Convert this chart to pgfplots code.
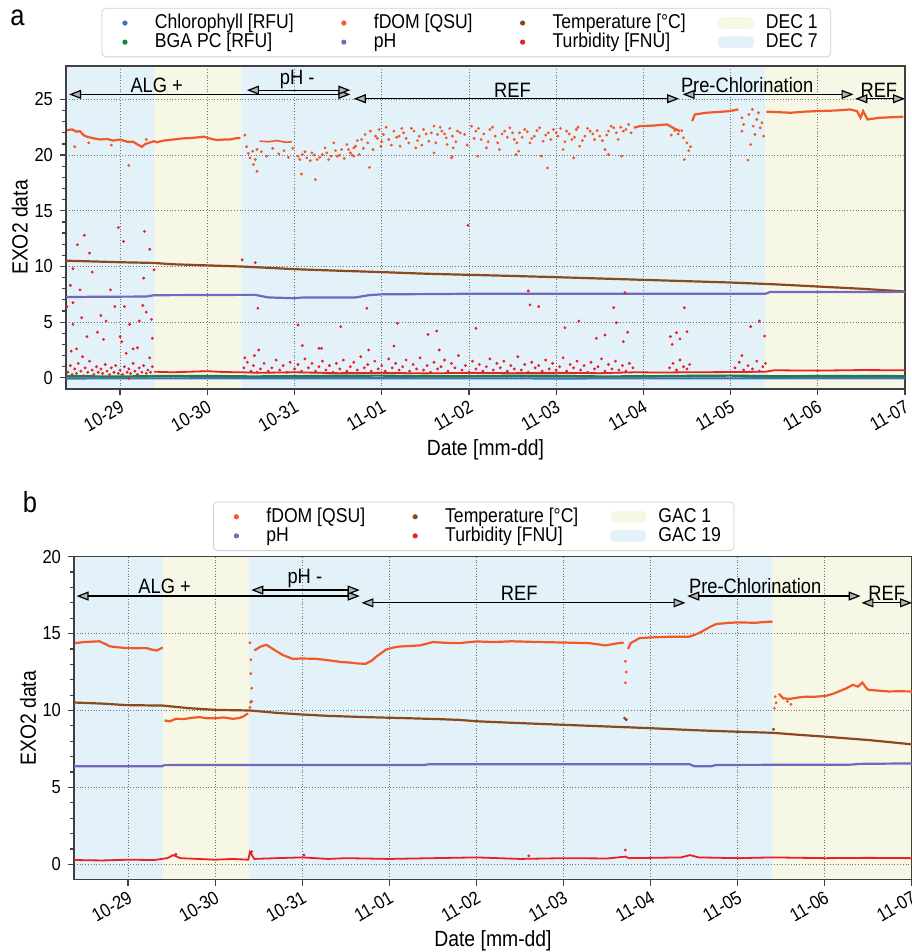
\documentclass[border=0pt]{standalone}
\usepackage{fontspec}
\setmainfont{Liberation Sans}[FakeStretch=0.88]
\usepackage{pgfplots}
\pgfplotsset{compat=1.18}
\usetikzlibrary{arrows.meta}
\definecolor{chl}{RGB}{70,110,190}
\definecolor{bga}{RGB}{25,130,60}
\definecolor{fdom}{RGB}{242,88,40}
\definecolor{temp}{RGB}{140,72,30}
\definecolor{ph}{RGB}{115,104,190}
\definecolor{turb}{RGB}{236,30,38}
\definecolor{yel}{RGB}{247,247,230}
\definecolor{blu}{RGB}{226,242,248}
\tikzset{
 ann/.style={{Triangle[fill=gray!60, length=6pt, width=4.5pt]}-{Triangle[fill=gray!60, length=6pt, width=4.5pt]}, black, line width=0.6pt},
 annlab/.style={font=\fontsize{10.4}{12}\selectfont, inner sep=0pt},
}
\pgfplotsset{
 exo/.style={
  scale only axis, width=419.5pt, height=161.5pt,
  xmin=-0.62, xmax=9, ymin=-1,
  xtick={0,...,9},
  xticklabels={10-29,10-30,10-31,11-01,11-02,11-03,11-04,11-05,11-06,11-07},
  xticklabel style={rotate=30, anchor=north east, inner sep=1.5pt},
  tick label style={font=\fontsize{9.4}{11}\selectfont},
  /pgf/number format/assume math mode=true,
  minor y tick num=4,
  tick pos=left, tick align=outside,
  major tick length=3pt, minor tick length=1.8pt,
  grid=major, grid style={densely dotted, black!55, line width=0.4pt},
  axis line style={black!75, line width=0.6pt},
  every tick/.style={black!75, line width=0.6pt},
  set layers,
  label style={font=\fontsize{11}{13}\selectfont},
  xlabel={Date [mm-dd]},
  ylabel={EXO2 data},
  ylabel style={at={(axis description cs:-0.055,0.5)}, anchor=center},
  xlabel style={at={(axis description cs:0.5,-0.189)}, anchor=center},
  legend cell align=left,
  legend style={draw=black!18, rounded corners=2pt, fill=white,
    font=\fontsize{10}{12}\selectfont, anchor=south west,
    inner xsep=6.5pt, inner ysep=3pt, row sep=0.8pt,
    nodes={inner sep=0pt},
    /tikz/every odd column/.append style={column sep=11pt},
    /tikz/every even column/.append style={column sep=20pt}},
 },
 dots/.style={color=#1, only marks, mark=*, mark size=0.5pt, forget plot},
 ln/.style={color=#1, line width=1.1pt, forget plot},
 shade/.style={fill=#1, draw=none, forget plot, on layer=axis background},
 lgd/.style={legend image code/.code={\path[draw=none] (0pt,0pt) -- (9pt,0pt); \fill[#1, draw=none] (5pt,0pt) circle (1.3pt);}},
 lgdarea/.style={legend image code/.code={\path[draw=none] (0pt,0pt) -- (9pt,0pt); \fill[#1, draw=none, overlay] (-4pt,-2.9pt) rectangle (14pt,2.9pt);}},
}
\begin{document}
\begin{tikzpicture}
\node[font=\fontsize{14.5}{16}\selectfont, inner sep=0pt] at (8.75pt,467.25pt) {a};
\node[font=\fontsize{14.5}{16}\selectfont, inner sep=0pt] at (15pt,224.75pt) {b};
% ================= panel a =================
\begin{axis}[exo, at={(33pt,281.5pt)}, anchor=south west,
  ymax=28, ytick={0,5,10,15,20,25},
  legend columns=4,
  legend style={at={(0.0424,1.027)}}]
\addlegendimage{lgd=chl}\addlegendentry{Chlorophyll [RFU]}
\addlegendimage{lgd=fdom}\addlegendentry{fDOM [QSU]}
\addlegendimage{lgd=temp}\addlegendentry{Temperature [°C]}
\addlegendimage{lgdarea=yel}\addlegendentry{DEC 1}
\addlegendimage{lgd=bga}\addlegendentry{BGA PC [RFU]}
\addlegendimage{lgd=ph}\addlegendentry{pH}
\addlegendimage{lgd=turb}\addlegendentry{Turbidity [FNU]}
\addlegendimage{lgdarea=blu}\addlegendentry{DEC 7}
% shading
\addplot[shade=blu] coordinates {(-0.62,-1)(0.39,-1)(0.39,28)(-0.62,28)} \closedcycle;
\addplot[shade=yel] coordinates {(0.39,-1)(1.39,-1)(1.39,28)(0.39,28)} \closedcycle;
\addplot[shade=blu] coordinates {(1.39,-1)(7.40,-1)(7.40,28)(1.39,28)} \closedcycle;
\addplot[shade=yel] coordinates {(7.40,-1)(9,-1)(9,28)(7.40,28)} \closedcycle;
% chlorophyll & BGA
\addplot[ln=chl] coordinates {(-0.62,-0.05)(2,-0.04)(5,-0.05)(9,-0.04)};
\addplot[ln=bga] coordinates {(-0.62,0.15)(0,0.12)(0.5,0.17)(1,0.18)(1.5,0.13)(2,0.15)(2.5,0.19)(3,0.2)(3.5,0.14)(4,0.15)(4.5,0.19)(5,0.18)(5.5,0.13)(6,0.14)(6.5,0.18)(7,0.2)(7.5,0.15)(8,0.16)(8.5,0.18)(9,0.15)};
% temperature
\addplot[ln=temp] coordinates {(-0.62,10.52)(-0.3,10.45)(0.0,10.38)(0.38,10.32)(0.6,10.2)(0.99,10.1)(1.38,10.0)(1.7,9.88)(1.99,9.76)(2.5,9.62)(2.98,9.5)(3.5,9.35)(4.0,9.25)(4.5,9.15)(5.0,9.04)(5.5,8.92)(6.0,8.8)(6.5,8.68)(7.0,8.56)(7.5,8.4)(8.0,8.2)(8.5,8.0)(9.0,7.75)};
% pH
\addplot[ln=ph] coordinates {(-0.62,7.25)(-0.3,7.28)(0.3,7.3)(0.39,7.42)(1.39,7.45)(1.55,7.45)(1.7,7.22)(2.0,7.15)(2.1,7.22)(2.7,7.22)(2.85,7.42)(3.0,7.5)(3.5,7.52)(4.0,7.55)(5.0,7.55)(6.0,7.55)(7.0,7.55)(7.4,7.55)(7.45,7.7)(8.0,7.7)(9.0,7.72)};
% turbidity baseline
\addplot[color=turb, line width=0.9pt, forget plot] coordinates {(0.39,0.55)(0.6,0.5)(0.8,0.55)(1.0,0.6)(1.2,0.52)(1.39,0.5)(1.6,0.45)(2.0,0.5)(2.5,0.42)(3.0,0.45)(3.5,0.4)(4.0,0.45)(4.5,0.42)(5.0,0.45)(5.5,0.42)(5.9,0.5)(6.2,0.48)(6.5,0.5)(7.0,0.52)(7.4,0.55)(7.5,0.68)(8.0,0.65)(8.5,0.7)(9.0,0.68)};
% turbidity scatter
\addplot[dots=turb] coordinates {
(-0.61,6.4)(-0.57,8.3)(-0.54,9.8)(-0.49,11.95)(-0.41,12.8)(-0.35,11.2)(-0.32,9.5)(-0.46,7.9)(-0.54,6.75)(-0.44,5.4)(-0.54,4.8)(-0.56,2.4)(-0.50,2.6)(-0.43,1.9)(-0.38,3.7)(-0.26,4.1)(-0.22,5.6)(-0.16,5.1)(-0.19,3.45)(-0.11,7.9)(-0.06,6.4)(-0.02,13.5)(0.04,12.25)(0.05,6.4)(0.0,3.7)(0.02,3.25)(0.07,2.2)(0.11,4.8)(0.15,2.6)(0.22,5.1)(0.20,2.7)(0.26,6.5)(0.28,13.15)(0.27,8.95)(0.30,5.9)(0.34,11.55)(0.36,5.25)(0.37,3.55)(0.39,9.7)(0.34,1.8)(0.10,-0.05)
(-0.6,0.5)(-0.57,1.1)(-0.55,0.3)(-0.52,0.8)(-0.5,0.4)(-0.48,1.3)(-0.45,0.6)(-0.42,0.2)(-0.4,0.9)(-0.37,0.5)(-0.35,1.5)(-0.32,0.7)(-0.3,0.3)(-0.27,1.0)(-0.25,0.5)(-0.22,0.8)(-0.2,0.4)(-0.17,1.2)(-0.15,0.6)(-0.12,0.3)(-0.1,0.9)(-0.07,0.5)(-0.05,1.1)(-0.02,0.4)(0.0,0.7)(0.03,0.3)(0.05,1.0)(0.08,0.5)(0.1,0.8)(0.12,0.4)(0.15,1.3)(0.17,0.6)(0.2,0.3)(0.22,0.9)(0.25,0.5)(0.27,1.1)(0.3,0.4)(0.32,0.7)(0.35,0.5)(0.37,1.0)
(1.40,10.6)(1.55,10.35)(1.58,6.25)(1.43,1.8)(1.54,2.0)(1.59,2.5)(2.04,4.75)(2.53,4.6)(2.09,2.9)(2.28,2.65)(2.31,2.65)(2.83,6.25)(2.85,2.5)(3.14,2.85)(3.18,4.9)(3.53,3.9)(3.63,4.2)(3.66,2.5)(3.99,13.7)(4.08,4.45)(4.68,7.8)(4.70,6.55)(4.80,6.4)(5.10,4.5)(5.26,5.1)(5.46,3.55)(5.56,3.85)(5.66,6.3)(5.69,4.95)(5.79,7.65)(5.82,4.1)(5.77,3.25)(6.31,3.7)(6.33,3.0)(6.38,4.05)(6.42,3.5)(6.50,4.15)(6.47,6.3)(7.23,4.6)(7.33,5.1)(7.39,3.75)(7.13,2.0)
(1.42,0.9)(1.46,1.4)(1.50,0.6)(1.53,1.1)(1.57,0.5)(1.61,0.8)(1.65,1.3)(1.70,0.6)(1.74,0.9)(1.79,1.6)(1.83,0.7)(1.87,1.1)(1.91,0.5)(1.95,1.4)(2.00,0.8)(2.04,1.2)(2.08,0.6)(2.12,1.7)(2.16,0.9)(2.20,1.3)(2.24,0.6)(2.28,1.0)(2.32,1.5)(2.36,0.7)(2.40,1.1)(2.44,0.5)(2.48,1.3)(2.52,0.8)(2.56,1.6)(2.60,0.6)(2.64,1.0)(2.68,1.4)(2.72,0.7)(2.76,1.9)(2.80,0.9)(2.84,1.2)(2.88,0.6)(2.92,1.5)(2.96,0.8)(3.00,1.1)(3.04,0.6)(3.08,1.7)(3.12,0.9)(3.16,1.3)(3.20,0.7)(3.24,1.0)(3.28,1.6)(3.32,0.6)(3.36,1.2)(3.40,0.8)(3.44,1.8)(3.48,0.7)(3.52,1.1)(3.56,0.5)(3.60,1.4)(3.64,0.8)(3.68,1.0)(3.72,1.6)(3.76,0.6)(3.80,1.3)(3.84,0.9)(3.88,2.0)(3.92,0.7)(3.96,1.1)(4.00,0.5)(4.04,1.5)(4.08,0.8)(4.12,1.2)(4.16,0.6)(4.20,1.0)(4.24,1.7)(4.28,0.7)(4.32,1.3)(4.36,0.9)(4.40,1.5)(4.44,0.6)(4.48,1.1)(4.52,0.8)(4.56,1.9)(4.60,0.7)(4.64,1.2)(4.68,0.5)(4.72,1.4)(4.76,0.9)(4.80,1.1)(4.84,0.6)(4.88,1.6)(4.92,0.8)(4.96,1.3)(5.00,0.7)(5.04,1.0)(5.08,1.8)(5.12,0.6)(5.16,1.2)(5.20,0.9)(5.24,1.5)(5.28,0.7)(5.32,1.1)(5.36,0.5)(5.40,1.4)(5.44,0.8)(5.48,1.0)(5.52,1.7)(5.56,0.6)(5.60,1.2)(5.64,0.8)(5.68,1.5)(5.72,0.7)(5.76,1.1)(5.80,0.6)(5.84,1.3)(5.88,0.9)
(6.30,0.9)(6.34,1.3)(6.38,0.7)(6.42,1.6)(6.46,1.0)(6.50,0.8)(6.53,1.2)(7.05,0.9)(7.10,1.4)(7.15,0.7)(7.2,1.1)(7.25,0.8)(7.3,1.5)(7.33,0.6)(7.37,1.0)(7.4,1.3)};
% fDOM lines
\addplot[ln=fdom] coordinates {(-0.61,22.25)(-0.55,22.3)(-0.5,22.1)(-0.46,22.15)(-0.42,21.8)(-0.38,21.65)(-0.3,21.5)(-0.23,21.4)(-0.15,21.45)(-0.08,21.3)(0,21.4)(0.08,21.2)(0.15,21.2)(0.2,20.95)(0.25,20.75)(0.29,21.0)(0.33,21.1)(0.39,21.25)(0.42,21.15)(0.5,21.3)(0.61,21.4)(0.72,21.5)(0.84,21.55)(0.96,21.65)(1.05,21.45)(1.11,21.35)(1.2,21.4)(1.26,21.4)(1.32,21.5)(1.38,21.55)};
\addplot[ln=fdom, line width=0.8pt] coordinates {(1.6,21.25)(1.7,21.2)(1.8,21.3)(1.9,21.15)(1.97,21.2)};
\addplot[ln=fdom] coordinates {(5.89,22.45)(5.96,22.6)(6.11,22.65)(6.27,22.75)(6.34,22.45)(6.42,22.15)};
\addplot[ln=fdom] coordinates {(6.56,23.05)(6.59,23.65)(6.72,23.8)(6.91,23.9)(6.99,23.95)(7.09,24.1)};
\addplot[ln=fdom] coordinates {(7.41,23.9)(7.55,23.85)(7.69,23.8)(7.85,23.9)(7.99,23.95)(8.2,24.0)(8.37,24.1)(8.45,23.95)(8.49,23.35)(8.52,23.95)(8.57,23.2)(8.71,23.35)(8.85,23.4)(8.98,23.45)};
% fDOM scatter
\addplot[dots=fdom] coordinates {
(-0.52,20.75)(-0.36,21.1)(-0.1,20.9)(0.3,21.4)(0.10,19.07)(1.53,19.15)(1.57,18.55)(2.24,17.8)(2.08,18.3)(2.86,18.9)(4.9,18.85)(6.47,19.6)(7.2,19.55)
(1.43,21.8)(1.45,20.75)(1.47,20.15)(1.49,19.75)(1.52,20.35)(1.55,19.6)(1.57,20.5)
(2.04,19.9)(2.09,20.05)(2.14,19.75)(2.2,20.2)(2.26,19.6)(2.32,20.05)(2.35,20.65)(2.39,19.6)(2.45,21.1)(2.49,19.9)(2.54,20.5)(2.6,20.95)(2.64,20.2)(2.68,20.65)(2.74,20.05)(2.77,21.4)(2.81,21.85)(2.87,22.15)(2.93,21.7)(2.97,22.3)(3.02,21.85)(3.08,21.4)(3.14,22.15)(3.2,21.7)(3.25,22.0)(3.31,21.1)(3.37,22.15)(3.43,21.7)(3.48,22.3)(3.54,21.25)(3.6,22.6)(3.64,21.85)(3.69,22.15)(3.75,20.95)(3.81,21.7)(3.87,22.15)(3.39,20.65)(3.6,20.2)(3.81,19.9)(2.99,20.8)(3.21,20.8)(2.68,19.9)
(3.74,21.55)(3.82,20.65)(3.95,21.85)(4.03,22.6)(4.08,22.15)(4.14,21.4)(4.2,20.65)(4.24,22.3)(4.3,21.7)(4.35,20.5)(4.41,22.15)(4.47,22.45)(4.52,21.4)(4.58,22.0)(4.64,22.3)(4.7,21.1)(4.75,21.7)(4.81,22.45)(4.85,21.25)(4.91,22.0)(4.97,22.3)(5.02,21.7)(5.08,20.5)(5.12,22.15)(5.18,21.4)(5.23,22.3)(5.27,20.8)(5.33,21.7)(5.39,22.15)(5.44,21.4)(5.5,21.7)(5.56,20.5)(5.6,22.15)(5.66,22.45)(5.71,21.4)(5.77,22.15)(5.83,22.75)
(5.2,19.75)(4.83,19.9)(4.54,20.05)(4.57,20.35)(4.1,19.9)(3.8,19.75)(5.6,20.05)(5.75,19.9)
(6.32,21.8)(6.36,22.2)(6.4,21.9)(6.44,22.2)(6.46,21.55)(6.5,21.1)(6.54,20.75)(6.52,20.4)
(7.13,23.35)(7.15,22.75)(7.21,23.65)(7.25,24.1)(7.26,22.6)(7.28,21.85)(7.3,23.2)(7.32,23.8)(7.34,22.45)(7.36,22.9)(7.38,21.7)(7.23,20.95)(7.13,22.15)
(2.72,21.3)(2.79,20.6)(2.84,21.1)(2.9,20.5)(2.95,21.5)(3.0,21.2)(3.05,22.5)(3.11,20.9)(3.17,21.6)(3.23,22.4)(3.28,21.5)(3.34,22.4)(3.41,21.3)(3.46,20.9)(3.51,21.9)(3.57,22.0)(3.62,21.1)(3.67,22.5)(3.72,21.9)(3.78,22.4)(3.85,21.2)(3.9,22.0)(3.98,20.9)(4.06,21.5)(4.11,22.4)(4.17,21.9)(4.22,21.2)(4.27,22.5)(4.33,21.1)(4.38,21.9)(4.44,21.6)(4.5,22.0)(4.55,21.1)(4.61,21.6)(4.67,22.1)(4.72,21.5)(4.78,22.2)(4.88,21.8)(4.94,21.4)(5.0,22.0)(5.05,22.4)(5.1,21.2)(5.15,21.9)(5.21,21.6)(5.25,22.5)(5.3,21.3)(5.36,22.4)(5.42,21.9)(5.47,22.2)(5.53,21.3)(5.58,21.8)(5.63,22.6)(5.69,22.0)(5.74,22.5)(5.8,22.3)(5.86,22.0)
(1.62,20.3)(1.68,19.9)(1.75,20.6)(1.82,20.1)(1.88,20.4)(1.93,19.8)(1.98,20.6)(2.06,19.6)(2.12,20.3)(2.18,19.5)(2.23,20.0)(2.29,19.8)(2.37,20.2)(2.42,19.9)(2.47,20.4)(2.52,20.0)(2.57,19.7)(2.62,20.5)(2.66,20.0)(2.7,20.8)};
% annotations
\draw[ann] (axis cs:-0.585,25.45) -- (axis cs:2.64,25.45);
\draw[ann] (axis cs:1.455,25.83) -- (axis cs:2.64,25.83);
\draw[ann] (axis cs:2.68,25.06) -- (axis cs:6.41,25.06);
\draw[ann] (axis cs:6.45,25.45) -- (axis cs:8.41,25.45);
\draw[ann] (axis cs:8.43,25.06) -- (axis cs:9.0,25.06);
\node[annlab, anchor=south] at (axis cs:0.42,25.55) {ALG +};
\node[annlab, anchor=south] at (axis cs:2.03,25.93) {pH -};
\node[annlab, anchor=south] at (axis cs:4.5,25.16) {REF};
\node[annlab, anchor=south] at (axis cs:7.19,25.55) {Pre-Chlorination};
\node[annlab, anchor=south] at (axis cs:8.70,25.16) {REF};
\end{axis}
% ================= panel b =================
\begin{axis}[exo, at={(37pt,36.15pt)}, anchor=south west, width=419pt,
  xmax=9, ymax=20, ytick={0,5,10,15,20},
  legend columns=3,
  legend style={at={(0.1659,1.0176)}}]
\addlegendimage{lgd=fdom}\addlegendentry{fDOM [QSU]}
\addlegendimage{lgd=temp}\addlegendentry{Temperature [°C]}
\addlegendimage{lgdarea=yel}\addlegendentry{GAC 1}
\addlegendimage{lgd=ph}\addlegendentry{pH}
\addlegendimage{lgd=turb}\addlegendentry{Turbidity [FNU]}
\addlegendimage{lgdarea=blu}\addlegendentry{GAC 19}
\addplot[shade=blu] coordinates {(-0.62,-1)(0.40,-1)(0.40,20)(-0.62,20)} \closedcycle;
\addplot[shade=yel] coordinates {(0.40,-1)(1.39,-1)(1.39,20)(0.40,20)} \closedcycle;
\addplot[shade=blu] coordinates {(1.39,-1)(7.40,-1)(7.40,20)(1.39,20)} \closedcycle;
\addplot[shade=yel] coordinates {(7.40,-1)(9,-1)(9,20)(7.40,20)} \closedcycle;
% turbidity
\addplot[ln=turb, line width=0.9pt] coordinates {(-0.62,0.28)(-0.3,0.25)(0.0,0.3)(0.3,0.28)(0.45,0.4)(0.52,0.6)(0.6,0.4)(0.8,0.35)(1.0,0.3)(1.2,0.35)(1.38,0.3)(1.40,0.8)(1.45,0.35)(1.7,0.4)(2.0,0.45)(2.3,0.35)(2.5,0.4)(3.0,0.35)(3.5,0.4)(4.0,0.45)(4.5,0.35)(5.0,0.4)(5.5,0.38)(5.71,0.5)(5.75,0.4)(6.0,0.42)(6.35,0.45)(6.45,0.6)(6.55,0.45)(7.0,0.4)(7.4,0.45)(8.0,0.4)(8.5,0.42)(9.0,0.4)};
\addplot[dots=turb] coordinates {(1.42,0.82)(5.71,0.93)(2.02,0.6)(4.6,0.55)(0.55,0.65)};
% pH
\addplot[ln=ph] coordinates {(-0.62,6.38)(0.39,6.38)(0.42,6.45)(1.4,6.46)(3.4,6.46)(3.45,6.5)(6.45,6.5)(6.5,6.38)(6.7,6.38)(6.75,6.46)(8.3,6.48)(8.4,6.53)(9.0,6.56)};
% temperature
\addplot[ln=temp] coordinates {(-0.62,10.52)(-0.3,10.45)(-0.02,10.35)(0.4,10.32)(0.7,10.15)(1.01,10.04)(1.4,10.0)(1.7,9.85)(1.97,9.75)(2.3,9.65)(2.73,9.57)(3.2,9.5)(3.57,9.44)(3.8,9.39)(4.0,9.3)(4.5,9.18)(5.0,9.07)(5.69,8.92)(6.0,8.85)(6.5,8.72)(7.0,8.62)(7.4,8.55)(7.7,8.42)(8.0,8.3)(8.5,8.08)(9.0,7.8)};
\addplot[dots=temp] coordinates {(1.41,10.55)(5.70,9.5)(5.72,9.4)(7.41,8.78)};
% fDOM
\addplot[ln=fdom] coordinates {(-0.61,14.38)(-0.5,14.45)(-0.33,14.5)(-0.25,14.3)(-0.21,14.17)(-0.1,14.1)(-0.02,14.06)(0.1,14.05)(0.21,14.06)(0.28,13.95)(0.33,13.9)(0.40,14.1)};
\addplot[ln=fdom] coordinates {(0.42,9.35)(0.48,9.3)(0.55,9.46)(0.65,9.45)(0.72,9.52)(0.82,9.57)(0.9,9.5)(1.01,9.5)(1.1,9.55)(1.2,9.46)(1.27,9.5)(1.32,9.6)(1.36,9.75)(1.38,9.8)};
\addplot[ln=fdom] coordinates {(1.45,13.9)(1.52,14.15)(1.59,14.27)(1.65,14.05)(1.72,13.8)(1.78,13.6)(1.89,13.36)(2.0,13.38)(2.16,13.36)(2.25,13.3)(2.35,13.23)(2.45,13.15)(2.54,13.12)(2.65,13.05)(2.73,13.04)(2.8,13.25)(2.85,13.5)(2.96,13.95)(3.05,14.1)(3.12,14.16)(3.35,14.23)(3.5,14.45)(3.65,14.4)(3.8,14.38)(4.0,14.49)(4.2,14.45)(4.4,14.5)(4.72,14.45)(5.0,14.42)(5.29,14.38)(5.4,14.3)(5.48,14.23)(5.6,14.35)(5.69,14.42)};
\addplot[ln=fdom] coordinates {(5.74,14.0)(5.77,14.38)(5.87,14.7)(6.0,14.75)(6.25,14.8)(6.44,14.8)(6.52,14.95)(6.59,15.14)(6.67,15.4)(6.75,15.62)(6.9,15.7)(7.01,15.73)(7.2,15.7)(7.3,15.75)(7.40,15.78)};
\addplot[ln=fdom] coordinates {(7.47,11.1)(7.52,10.8)(7.59,10.75)(7.7,10.85)(7.78,10.9)(7.9,10.9)(8.01,10.95)(8.1,11.1)(8.16,11.24)(8.25,11.45)(8.32,11.67)(8.38,11.55)(8.43,11.82)(8.47,11.5)(8.5,11.34)(8.6,11.3)(8.73,11.24)(8.85,11.25)(9.0,11.24)};
\addplot[dots=fdom] coordinates {(1.40,14.4)(1.41,13.3)(1.41,12.4)(1.42,11.45)(1.42,10.6)(1.40,10.2)(5.71,13.2)(5.71,11.8)(5.72,12.5)(7.42,10.15)(7.44,10.5)(7.52,10.8)(7.57,10.6)(7.61,10.4)(7.43,10.9)};
% annotations
\draw[ann] (axis cs:-0.59,17.44) -- (axis cs:2.66,17.44);
\draw[ann] (axis cs:1.415,17.83) -- (axis cs:2.66,17.83);
\draw[ann] (axis cs:2.68,17.0) -- (axis cs:6.40,17.0);
\draw[ann] (axis cs:6.42,17.44) -- (axis cs:8.41,17.44);
\draw[ann] (axis cs:8.42,17.0) -- (axis cs:9.0,17.0);
\node[annlab, anchor=south] at (axis cs:0.42,17.55) {ALG +};
\node[annlab, anchor=south] at (axis cs:2.03,17.93) {pH -};
\node[annlab, anchor=south] at (axis cs:4.49,17.1) {REF};
\node[annlab, anchor=south] at (axis cs:7.2,17.55) {Pre-Chlorination};
\node[annlab, anchor=south] at (axis cs:8.71,17.1) {REF};
\end{axis}
\pgfresetboundingbox
\useasboundingbox (0,0) rectangle (455.5pt,476pt);
\end{tikzpicture}
\end{document}
